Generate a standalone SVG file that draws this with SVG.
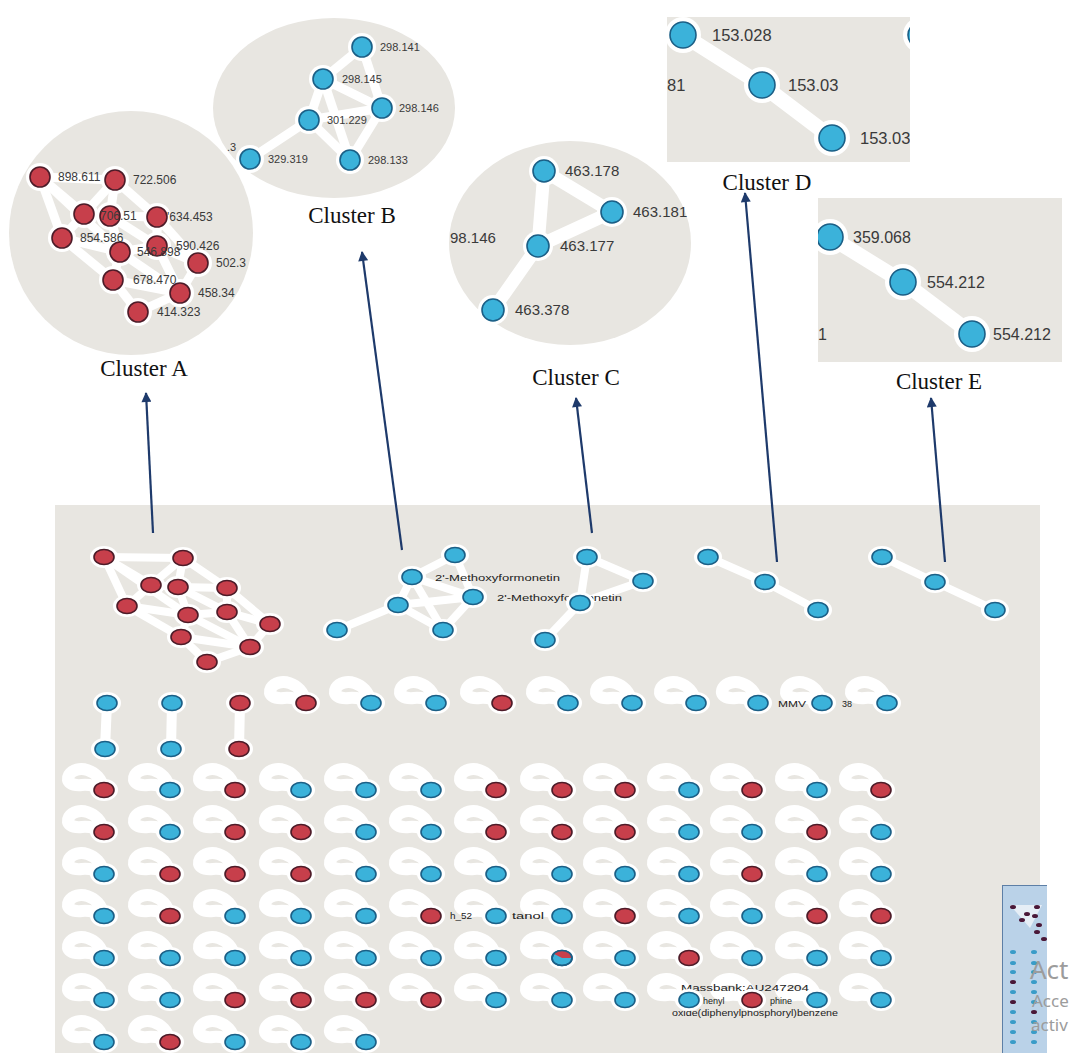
<svg xmlns="http://www.w3.org/2000/svg" xmlns:xlink="http://www.w3.org/1999/xlink" width="1071" height="1053" viewBox="0 0 1071 1053">
<style>
.bg{fill:#e8e6e1}
.e{stroke:#fff;stroke-linecap:round;fill:none}
.lp{fill:none;stroke:#fff;stroke-width:12;stroke-linejoin:round}
.b{fill:#3bb2da;stroke:#1b5f86;stroke-width:1.6}
.r{fill:#c73f4b;stroke:#4d1b28;stroke-width:1.6}
.h{fill:#fff}
.lbl{font-family:"Liberation Sans",Arial,sans-serif;fill:#3a3a3a}
.pl{font-family:"Liberation Sans",Arial,sans-serif;fill:#222;font-size:9px}
.cl{font-family:"Liberation Serif","Times New Roman",serif;font-size:23px;fill:#111}
.arr{stroke:#1e3a6b;stroke-width:2.2;fill:none;marker-end:url(#ah)}
.wm{font-family:"Noto Sans","Open Sans",sans-serif;fill:#9c9c9c}
</style>
<defs>
<marker id="ah" viewBox="0 0 10 10" refX="9" refY="5" markerWidth="11" markerHeight="10" markerUnits="userSpaceOnUse" orient="auto"><path d="M0,0 L10,5 L0,10 z" fill="#1e3a6b"/></marker>
<path id="lp" d="M0,0 C-4,-22 -28,-26 -35,-15 C-39,-8 -32,-4 -22,-5 C-13,-6 -6,-3 0,0 Z"/>
<g id="nb"><ellipse class="h" rx="14" ry="11"/><ellipse class="b" rx="10" ry="7.5"/></g>
<g id="nr"><ellipse class="h" rx="14" ry="11"/><ellipse class="r" rx="10" ry="7.5"/></g>
<g id="ar"><circle class="h" r="14"/><circle class="r" r="10"/></g>
<g id="bb"><circle class="h" r="14"/><circle class="b" r="10"/></g>
<g id="cb"><circle class="h" r="15"/><circle class="b" r="11"/></g>
<g id="db"><circle class="h" r="18"/><circle class="b" r="13"/></g>
<clipPath id="clipD"><rect x="667" y="17" width="243" height="145"/></clipPath>
<clipPath id="clipE"><rect x="818" y="198" width="244" height="164"/></clipPath>
<clipPath id="clipM"><rect x="1002" y="885" width="45" height="170"/></clipPath>
</defs>
<rect width="1071" height="1053" fill="#fff"/>

<!-- backgrounds -->
<g id="backgrounds">
<circle class="bg" cx="131" cy="233" r="122"/>
<ellipse class="bg" cx="334" cy="108" rx="121" ry="90"/>
<ellipse class="bg" cx="570" cy="243" rx="121" ry="102"/>
<rect class="bg" x="667" y="17" width="243" height="145"/>
<rect class="bg" x="818" y="198" width="244" height="164"/>
<rect class="bg" x="55" y="505" width="985" height="548"/>
</g>

<g id="connectors">
<g id="edges-clusterA-zoom" class="e" stroke-width="9">
<line x1="40" y1="177" x2="115" y2="180"/><line x1="40" y1="177" x2="62" y2="238"/><line x1="40" y1="177" x2="84" y2="214"/><line x1="40" y1="177" x2="120" y2="252"/>
<line x1="115" y1="180" x2="157" y2="217"/><line x1="115" y1="180" x2="110" y2="216"/><line x1="115" y1="180" x2="84" y2="214"/><line x1="84" y1="214" x2="110" y2="216"/>
<line x1="110" y1="216" x2="157" y2="217"/><line x1="84" y1="214" x2="62" y2="238"/><line x1="62" y1="238" x2="120" y2="252"/><line x1="62" y1="238" x2="113" y2="280"/>
<line x1="120" y1="252" x2="157" y2="246"/><line x1="157" y1="217" x2="157" y2="246"/><line x1="157" y1="217" x2="198" y2="263"/><line x1="157" y1="246" x2="198" y2="263"/>
<line x1="120" y1="252" x2="113" y2="280"/><line x1="113" y1="280" x2="180" y2="293"/><line x1="113" y1="280" x2="138" y2="312"/><line x1="138" y1="312" x2="180" y2="293"/>
<line x1="198" y1="263" x2="180" y2="293"/><line x1="157" y1="246" x2="180" y2="293"/><line x1="120" y1="252" x2="180" y2="293"/><line x1="110" y1="216" x2="120" y2="252"/><line x1="110" y1="216" x2="157" y2="246"/>
</g>
<g id="edges-clusterB-zoom" class="e" stroke-width="9">
<line x1="362" y1="47" x2="323" y2="79"/><line x1="362" y1="47" x2="382" y2="108"/><line x1="323" y1="79" x2="382" y2="108"/><line x1="323" y1="79" x2="309" y2="120"/>
<line x1="382" y1="108" x2="309" y2="120"/><line x1="309" y1="120" x2="350" y2="160"/><line x1="382" y1="108" x2="350" y2="160"/><line x1="309" y1="120" x2="250" y2="159"/><line x1="323" y1="79" x2="350" y2="160"/>
</g>
<g id="edges-clusterC-zoom" class="e" stroke-width="13">
<line x1="544" y1="171" x2="612" y2="212"/><line x1="544" y1="171" x2="538" y2="246"/><line x1="538" y1="246" x2="612" y2="212"/><line x1="538" y1="246" x2="493" y2="310"/>
</g>
<g id="edges-clusterD-zoom" class="e" stroke-width="15" clip-path="url(#clipD)">
<polyline points="683,35 762,85 832,138"/>
</g>
<g id="edges-clusterE-zoom" class="e" stroke-width="15" clip-path="url(#clipE)">
<polyline points="830,237 903,282 972,334"/>
</g>
<g id="edges-panel" class="e" stroke-width="8">
<line x1="104" y1="557" x2="183" y2="558"/><line x1="104" y1="557" x2="127" y2="606"/><line x1="104" y1="557" x2="151" y2="585"/><line x1="104" y1="557" x2="188" y2="615"/>
<line x1="183" y1="558" x2="227" y2="588"/><line x1="183" y1="558" x2="178" y2="587"/><line x1="183" y1="558" x2="151" y2="585"/><line x1="151" y1="585" x2="178" y2="587"/>
<line x1="178" y1="587" x2="227" y2="588"/><line x1="151" y1="585" x2="127" y2="606"/><line x1="127" y1="606" x2="188" y2="615"/><line x1="127" y1="606" x2="181" y2="637"/>
<line x1="188" y1="615" x2="227" y2="612"/><line x1="227" y1="588" x2="227" y2="612"/><line x1="227" y1="588" x2="270" y2="624"/><line x1="227" y1="612" x2="270" y2="624"/>
<line x1="188" y1="615" x2="181" y2="637"/><line x1="181" y1="637" x2="250" y2="647"/><line x1="181" y1="637" x2="207" y2="662"/><line x1="207" y1="662" x2="250" y2="647"/>
<line x1="270" y1="624" x2="250" y2="647"/><line x1="227" y1="612" x2="250" y2="647"/><line x1="188" y1="615" x2="250" y2="647"/><line x1="178" y1="587" x2="188" y2="615"/><line x1="178" y1="587" x2="227" y2="612"/>
<line x1="455" y1="555" x2="412" y2="577"/><line x1="455" y1="555" x2="473" y2="597"/><line x1="412" y1="577" x2="473" y2="597"/><line x1="412" y1="577" x2="398" y2="605"/>
<line x1="473" y1="597" x2="398" y2="605"/><line x1="398" y1="605" x2="443" y2="630"/><line x1="473" y1="597" x2="443" y2="630"/><line x1="398" y1="605" x2="337" y2="630"/><line x1="412" y1="577" x2="443" y2="630"/>
<line x1="587" y1="557" x2="643" y2="581"/><line x1="587" y1="557" x2="580" y2="603"/><line x1="580" y1="603" x2="643" y2="581"/><line x1="580" y1="603" x2="545" y2="640"/>
<polyline points="708,557 765,582 818,610"/>
<polyline points="882,557 935,582 995,610"/>
<line x1="107" y1="703" x2="105" y2="749" stroke-width="10"/><line x1="172" y1="703" x2="171" y2="749" stroke-width="10"/><line x1="240" y1="703" x2="239" y2="749" stroke-width="10"/>
</g>
<g id="self-loops" class="lp">
<use href="#lp" x="306" y="703"/><use href="#lp" x="371" y="703"/><use href="#lp" x="436" y="703"/><use href="#lp" x="502" y="703"/><use href="#lp" x="568" y="703"/><use href="#lp" x="632" y="703"/><use href="#lp" x="696" y="703"/><use href="#lp" x="758" y="703"/><use href="#lp" x="822" y="703"/><use href="#lp" x="887" y="703"/>
<use href="#lp" x="104" y="790"/><use href="#lp" x="170" y="790"/><use href="#lp" x="235" y="790"/><use href="#lp" x="301" y="790"/><use href="#lp" x="366" y="790"/><use href="#lp" x="431" y="790"/><use href="#lp" x="496" y="790"/><use href="#lp" x="562" y="790"/><use href="#lp" x="625" y="790"/><use href="#lp" x="689" y="790"/><use href="#lp" x="752" y="790"/><use href="#lp" x="817" y="790"/><use href="#lp" x="881" y="790"/>
<use href="#lp" x="104" y="832"/><use href="#lp" x="170" y="832"/><use href="#lp" x="235" y="832"/><use href="#lp" x="301" y="832"/><use href="#lp" x="366" y="832"/><use href="#lp" x="431" y="832"/><use href="#lp" x="496" y="832"/><use href="#lp" x="562" y="832"/><use href="#lp" x="625" y="832"/><use href="#lp" x="689" y="832"/><use href="#lp" x="752" y="832"/><use href="#lp" x="817" y="832"/><use href="#lp" x="881" y="832"/>
<use href="#lp" x="104" y="874"/><use href="#lp" x="170" y="874"/><use href="#lp" x="235" y="874"/><use href="#lp" x="301" y="874"/><use href="#lp" x="366" y="874"/><use href="#lp" x="431" y="874"/><use href="#lp" x="496" y="874"/><use href="#lp" x="562" y="874"/><use href="#lp" x="625" y="874"/><use href="#lp" x="689" y="874"/><use href="#lp" x="752" y="874"/><use href="#lp" x="817" y="874"/><use href="#lp" x="881" y="874"/>
<use href="#lp" x="104" y="916"/><use href="#lp" x="170" y="916"/><use href="#lp" x="235" y="916"/><use href="#lp" x="301" y="916"/><use href="#lp" x="366" y="916"/><use href="#lp" x="431" y="916"/><use href="#lp" x="496" y="916"/><use href="#lp" x="562" y="916"/><use href="#lp" x="625" y="916"/><use href="#lp" x="689" y="916"/><use href="#lp" x="752" y="916"/><use href="#lp" x="817" y="916"/><use href="#lp" x="881" y="916"/>
<use href="#lp" x="104" y="958"/><use href="#lp" x="170" y="958"/><use href="#lp" x="235" y="958"/><use href="#lp" x="301" y="958"/><use href="#lp" x="366" y="958"/><use href="#lp" x="431" y="958"/><use href="#lp" x="496" y="958"/><use href="#lp" x="562" y="958"/><use href="#lp" x="625" y="958"/><use href="#lp" x="689" y="958"/><use href="#lp" x="752" y="958"/><use href="#lp" x="817" y="958"/><use href="#lp" x="881" y="958"/>
<use href="#lp" x="104" y="1000"/><use href="#lp" x="170" y="1000"/><use href="#lp" x="235" y="1000"/><use href="#lp" x="301" y="1000"/><use href="#lp" x="366" y="1000"/><use href="#lp" x="431" y="1000"/><use href="#lp" x="496" y="1000"/><use href="#lp" x="562" y="1000"/><use href="#lp" x="625" y="1000"/><use href="#lp" x="689" y="1000"/><use href="#lp" x="752" y="1000"/><use href="#lp" x="817" y="1000"/><use href="#lp" x="881" y="1000"/>
<use href="#lp" x="104" y="1042"/><use href="#lp" x="170" y="1042"/><use href="#lp" x="235" y="1042"/><use href="#lp" x="301" y="1042"/><use href="#lp" x="366" y="1042"/>
</g>
<g id="arrows">
<line class="arr" x1="153" y1="533" x2="146" y2="393"/>
<line class="arr" x1="402" y1="550" x2="362" y2="252"/>
<line class="arr" x1="592" y1="533" x2="576" y2="398"/>
<line class="arr" x1="777" y1="562" x2="745" y2="193"/>
<line class="arr" x1="945" y1="562" x2="931" y2="398"/>
</g>
</g>

<g id="panel-labels">
<text class="pl" x="435" y="581" font-size="10" textLength="125" lengthAdjust="spacingAndGlyphs">2'-Methoxyformonetin</text>
<text class="pl" x="497" y="601" font-size="10" textLength="125" lengthAdjust="spacingAndGlyphs">2'-Methoxyformonetin</text>
<text class="pl" x="778" y="707" textLength="28" lengthAdjust="spacingAndGlyphs">MMV</text>
<text class="pl" x="842" y="707">38</text>
<text class="pl" x="450" y="919" textLength="22" lengthAdjust="spacingAndGlyphs">h_52</text>
<text class="pl" x="512" y="919" textLength="32" lengthAdjust="spacingAndGlyphs">tanol</text>
<text class="pl" x="681" y="991" textLength="128" lengthAdjust="spacingAndGlyphs">Massbank:AU247204</text>
<text class="pl" x="703" y="1004">henyl</text>
<text class="pl" x="770" y="1004">phine</text>
<text class="pl" x="672" y="1016" textLength="166" lengthAdjust="spacingAndGlyphs">oxide(diphenylphosphoryl)benzene</text>
</g>

<g id="nodes">
<!-- cluster A zoom -->
<g id="A-898.611"><use href="#ar" x="40" y="177"/></g>
<g id="A-722.506"><use href="#ar" x="115" y="180"/></g>
<g id="A-n3"><use href="#ar" x="84" y="214"/></g>
<g id="A-706.51"><use href="#ar" x="110" y="216"/></g>
<g id="A-634.453"><use href="#ar" x="157" y="217"/></g>
<g id="A-854.586"><use href="#ar" x="62" y="238"/></g>
<g id="A-546.898"><use href="#ar" x="120" y="252"/></g>
<g id="A-590.426"><use href="#ar" x="157" y="246"/></g>
<g id="A-502.3"><use href="#ar" x="198" y="263"/></g>
<g id="A-678.470"><use href="#ar" x="113" y="280"/></g>
<g id="A-458.34"><use href="#ar" x="180" y="293"/></g>
<g id="A-414.323"><use href="#ar" x="138" y="312"/></g>
<!-- cluster B zoom -->
<g id="B-298.141"><use href="#bb" x="362" y="47"/></g>
<g id="B-298.145"><use href="#bb" x="323" y="79"/></g>
<g id="B-298.146"><use href="#bb" x="382" y="108"/></g>
<g id="B-301.229"><use href="#bb" x="309" y="120"/></g>
<g id="B-329.319"><use href="#bb" x="250" y="159"/></g>
<g id="B-298.133"><use href="#bb" x="350" y="160"/></g>
<!-- cluster C zoom -->
<g id="C-463.178"><use href="#cb" x="544" y="171"/></g>
<g id="C-463.181"><use href="#cb" x="612" y="212"/></g>
<g id="C-463.177"><use href="#cb" x="538" y="246"/></g>
<g id="C-463.378"><use href="#cb" x="493" y="310"/></g>
<!-- cluster D zoom -->
<g id="D-153.028"><use href="#db" x="683" y="35"/></g>
<g id="D-153.03a"><use href="#db" x="762" y="85"/></g>
<g id="D-153.03b"><use href="#db" x="832" y="138"/></g>
<g id="D-edge-node" clip-path="url(#clipD)"><use href="#db" x="921" y="35"/></g>
<!-- cluster E zoom -->
<g id="E-359.068" clip-path="url(#clipE)"><use href="#db" x="830" y="237"/></g>
<g id="E-554.212a"><use href="#db" x="903" y="282"/></g>
<g id="E-554.212b"><use href="#db" x="972" y="334"/></g>

<!-- panel clusters -->
<g id="pA1"><use href="#nr" x="104" y="557"/></g><g id="pA2"><use href="#nr" x="183" y="558"/></g><g id="pA3"><use href="#nr" x="151" y="585"/></g><g id="pA4"><use href="#nr" x="178" y="587"/></g>
<g id="pA5"><use href="#nr" x="227" y="588"/></g><g id="pA6"><use href="#nr" x="127" y="606"/></g><g id="pA7"><use href="#nr" x="188" y="615"/></g><g id="pA8"><use href="#nr" x="227" y="612"/></g>
<g id="pA9"><use href="#nr" x="270" y="624"/></g><g id="pA10"><use href="#nr" x="181" y="637"/></g><g id="pA11"><use href="#nr" x="250" y="647"/></g><g id="pA12"><use href="#nr" x="207" y="662"/></g>
<g id="pB1"><use href="#nb" x="455" y="555"/></g><g id="pB2"><use href="#nb" x="412" y="577"/></g><g id="pB3"><use href="#nb" x="473" y="597"/></g><g id="pB4"><use href="#nb" x="398" y="605"/></g><g id="pB5"><use href="#nb" x="443" y="630"/></g><g id="pB6"><use href="#nb" x="337" y="630"/></g>
<g id="pC1"><use href="#nb" x="587" y="557"/></g><g id="pC2"><use href="#nb" x="643" y="581"/></g><g id="pC3"><use href="#nb" x="580" y="603"/></g><g id="pC4"><use href="#nb" x="545" y="640"/></g>
<g id="pD1"><use href="#nb" x="708" y="557"/></g><g id="pD2"><use href="#nb" x="765" y="582"/></g><g id="pD3"><use href="#nb" x="818" y="610"/></g>
<g id="pE1"><use href="#nb" x="882" y="557"/></g><g id="pE2"><use href="#nb" x="935" y="582"/></g><g id="pE3"><use href="#nb" x="995" y="610"/></g>

<!-- pairs -->
<g id="pair1a"><use href="#nb" x="107" y="703"/></g><g id="pair1b"><use href="#nb" x="105" y="749"/></g>
<g id="pair2a"><use href="#nb" x="172" y="703"/></g><g id="pair2b"><use href="#nb" x="171" y="749"/></g>
<g id="pair3a"><use href="#nr" x="240" y="703"/></g><g id="pair3b"><use href="#nr" x="239" y="749"/></g>

<!-- row 1 singletons -->
<g id="s1-1"><use href="#nr" x="306" y="703"/></g><g id="s1-2"><use href="#nb" x="371" y="703"/></g><g id="s1-3"><use href="#nb" x="436" y="703"/></g><g id="s1-4"><use href="#nr" x="502" y="703"/></g><g id="s1-5"><use href="#nb" x="568" y="703"/></g>
<g id="s1-6"><use href="#nb" x="632" y="703"/></g><g id="s1-7"><use href="#nb" x="696" y="703"/></g><g id="s1-8"><use href="#nb" x="758" y="703"/></g><g id="s1-9"><use href="#nb" x="822" y="703"/></g><g id="s1-10"><use href="#nb" x="887" y="703"/></g>

<g id="s2-1"><use href="#nr" x="104" y="790"/></g><g id="s2-2"><use href="#nb" x="170" y="790"/></g><g id="s2-3"><use href="#nr" x="235" y="790"/></g><g id="s2-4"><use href="#nb" x="301" y="790"/></g><g id="s2-5"><use href="#nb" x="366" y="790"/></g><g id="s2-6"><use href="#nb" x="431" y="790"/></g><g id="s2-7"><use href="#nr" x="496" y="790"/></g>
<g id="s2-8"><use href="#nr" x="562" y="790"/></g><g id="s2-9"><use href="#nr" x="625" y="790"/></g><g id="s2-10"><use href="#nb" x="689" y="790"/></g><g id="s2-11"><use href="#nr" x="752" y="790"/></g><g id="s2-12"><use href="#nb" x="817" y="790"/></g><g id="s2-13"><use href="#nr" x="881" y="790"/></g>
<g id="s3-1"><use href="#nr" x="104" y="832"/></g><g id="s3-2"><use href="#nb" x="170" y="832"/></g><g id="s3-3"><use href="#nr" x="235" y="832"/></g><g id="s3-4"><use href="#nr" x="301" y="832"/></g><g id="s3-5"><use href="#nb" x="366" y="832"/></g><g id="s3-6"><use href="#nb" x="431" y="832"/></g><g id="s3-7"><use href="#nr" x="496" y="832"/></g>
<g id="s3-8"><use href="#nr" x="562" y="832"/></g><g id="s3-9"><use href="#nr" x="625" y="832"/></g><g id="s3-10"><use href="#nb" x="689" y="832"/></g><g id="s3-11"><use href="#nb" x="752" y="832"/></g><g id="s3-12"><use href="#nr" x="817" y="832"/></g><g id="s3-13"><use href="#nb" x="881" y="832"/></g>
<g id="s4-1"><use href="#nb" x="104" y="874"/></g><g id="s4-2"><use href="#nr" x="170" y="874"/></g><g id="s4-3"><use href="#nr" x="235" y="874"/></g><g id="s4-4"><use href="#nr" x="301" y="874"/></g><g id="s4-5"><use href="#nb" x="366" y="874"/></g><g id="s4-6"><use href="#nb" x="431" y="874"/></g><g id="s4-7"><use href="#nb" x="496" y="874"/></g>
<g id="s4-8"><use href="#nb" x="562" y="874"/></g><g id="s4-9"><use href="#nb" x="625" y="874"/></g><g id="s4-10"><use href="#nb" x="689" y="874"/></g><g id="s4-11"><use href="#nr" x="752" y="874"/></g><g id="s4-12"><use href="#nb" x="817" y="874"/></g><g id="s4-13"><use href="#nb" x="881" y="874"/></g>
<g id="s5-1"><use href="#nb" x="104" y="916"/></g><g id="s5-2"><use href="#nr" x="170" y="916"/></g><g id="s5-3"><use href="#nb" x="235" y="916"/></g><g id="s5-4"><use href="#nb" x="301" y="916"/></g><g id="s5-5"><use href="#nb" x="366" y="916"/></g><g id="s5-6"><use href="#nr" x="431" y="916"/></g><g id="s5-7"><use href="#nb" x="496" y="916"/></g>
<g id="s5-8"><use href="#nb" x="562" y="916"/></g><g id="s5-9"><use href="#nr" x="625" y="916"/></g><g id="s5-10"><use href="#nb" x="689" y="916"/></g><g id="s5-11"><use href="#nb" x="752" y="916"/></g><g id="s5-12"><use href="#nr" x="817" y="916"/></g><g id="s5-13"><use href="#nr" x="881" y="916"/></g>
<g id="s6-1"><use href="#nb" x="104" y="958"/></g><g id="s6-2"><use href="#nb" x="170" y="958"/></g><g id="s6-3"><use href="#nb" x="235" y="958"/></g><g id="s6-4"><use href="#nb" x="301" y="958"/></g><g id="s6-5"><use href="#nb" x="366" y="958"/></g><g id="s6-6"><use href="#nb" x="431" y="958"/></g><g id="s6-7"><use href="#nb" x="496" y="958"/></g>
<g id="s6-8"><use href="#nb" x="562" y="958"/><path d="M562,958 L553.8,953.7 A10,7.5 0 0 1 572,958 Z" fill="#c73f4b"/><ellipse cx="562" cy="958" rx="10" ry="7.5" fill="none" stroke="#1b5f86" stroke-width="1.6"/></g>
<g id="s6-9"><use href="#nb" x="625" y="958"/></g><g id="s6-10"><use href="#nr" x="689" y="958"/></g><g id="s6-11"><use href="#nb" x="752" y="958"/></g><g id="s6-12"><use href="#nb" x="817" y="958"/></g><g id="s6-13"><use href="#nb" x="881" y="958"/></g>
<g id="s7-1"><use href="#nb" x="104" y="1000"/></g><g id="s7-2"><use href="#nb" x="170" y="1000"/></g><g id="s7-3"><use href="#nr" x="235" y="1000"/></g><g id="s7-4"><use href="#nr" x="301" y="1000"/></g><g id="s7-5"><use href="#nr" x="366" y="1000"/></g><g id="s7-6"><use href="#nr" x="431" y="1000"/></g><g id="s7-7"><use href="#nb" x="496" y="1000"/></g>
<g id="s7-8"><use href="#nb" x="562" y="1000"/></g><g id="s7-9"><use href="#nb" x="625" y="1000"/></g><g id="s7-10"><use href="#nb" x="689" y="1000"/></g><g id="s7-11"><use href="#nr" x="752" y="1000"/></g><g id="s7-12"><use href="#nb" x="817" y="1000"/></g><g id="s7-13"><use href="#nb" x="881" y="1000"/></g>
<g id="s8-1"><use href="#nb" x="104" y="1042"/></g><g id="s8-2"><use href="#nr" x="170" y="1042"/></g><g id="s8-3"><use href="#nb" x="235" y="1042"/></g><g id="s8-4"><use href="#nb" x="301" y="1042"/></g><g id="s8-5"><use href="#nb" x="366" y="1042"/></g>
</g>

<g id="zoom-labels" class="lbl">
<g font-size="12">
<text x="58" y="181">898.611</text>
<text x="133" y="184">722.506</text>
<text x="100" y="220">706.51</text>
<text x="167" y="221">'634.453</text>
<text x="80" y="242">854.586</text>
<text x="137" y="256">546.898</text>
<text x="176" y="250">590.426</text>
<text x="216" y="267">502.3</text>
<text x="133" y="284">678.470</text>
<text x="198" y="297">458.34</text>
<text x="157" y="316">414.323</text>
</g>
<g font-size="11">
<text x="380" y="51">298.141</text>
<text x="342" y="83">298.145</text>
<text x="399" y="112">298.146</text>
<text x="327" y="124">301.229</text>
<text x="268" y="163">329.319</text>
<text x="368" y="164">298.133</text>
<text x="227" y="151">.3</text>
</g>
<g font-size="15">
<text x="565" y="176">463.178</text>
<text x="633" y="217">463.181</text>
<text x="560" y="251">463.177</text>
<text x="515" y="315">463.378</text>
<text x="450" y="243">98.146</text>
</g>
<g font-size="16.5" clip-path="url(#clipD)">
<text x="712" y="41">153.028</text>
<text x="788" y="91">153.03</text>
<text x="860" y="144">153.03</text>
<text x="667" y="91">81</text>
</g>
<g font-size="16" clip-path="url(#clipE)">
<text x="853" y="243">359.068</text>
<text x="927" y="288">554.212</text>
<text x="993" y="340">554.212</text>
<text x="809" y="340">31</text>
</g>
</g>

<g id="cluster-titles" class="cl" text-anchor="middle">
<text x="144" y="376">Cluster A</text>
<text x="352" y="223">Cluster B</text>
<text x="576" y="385">Cluster C</text>
<text x="767" y="190">Cluster D</text>
<text x="939" y="389">Cluster E</text>
</g>

<g id="minimap">
<rect x="1002" y="885" width="50" height="170" fill="#bad2e8" stroke="#5d7fa6" stroke-width="2" clip-path="url(#clipM)"/>
<g clip-path="url(#clipM)">
<polygon points="1010,905 1042,905 1030,928" fill="#e6eef6"/>
<g fill="#4a1838">
<ellipse cx="1013" cy="907" rx="3" ry="2"/><ellipse cx="1037" cy="907" rx="3" ry="2"/><ellipse cx="1027" cy="914" rx="3" ry="2"/><ellipse cx="1035" cy="916" rx="3" ry="2"/><ellipse cx="1022" cy="920" rx="3" ry="2"/><ellipse cx="1039" cy="925" rx="3" ry="2"/><ellipse cx="1037" cy="932" rx="3" ry="2"/><ellipse cx="1044" cy="939" rx="3" ry="2"/>
<ellipse cx="1013" cy="982" rx="3" ry="2"/><ellipse cx="1013" cy="1002" rx="3" ry="2"/><ellipse cx="1034" cy="1012" rx="3" ry="2"/>
</g>
<g fill="#3a9cc8">
<ellipse cx="1013" cy="952" rx="3" ry="2"/><ellipse cx="1034" cy="952" rx="3" ry="2"/><ellipse cx="1013" cy="963" rx="3" ry="2"/><ellipse cx="1034" cy="963" rx="3" ry="2"/>
<ellipse cx="1013" cy="972" rx="3" ry="2"/><ellipse cx="1034" cy="972" rx="3" ry="2"/><ellipse cx="1034" cy="982" rx="3" ry="2"/>
<ellipse cx="1013" cy="992" rx="3" ry="2"/><ellipse cx="1034" cy="992" rx="3" ry="2"/><ellipse cx="1034" cy="1002" rx="3" ry="2"/>
<ellipse cx="1013" cy="1012" rx="3" ry="2"/><ellipse cx="1013" cy="1022" rx="3" ry="2"/><ellipse cx="1034" cy="1022" rx="3" ry="2"/>
<ellipse cx="1013" cy="1032" rx="3" ry="2"/><ellipse cx="1034" cy="1032" rx="3" ry="2"/><ellipse cx="1013" cy="1042" rx="3" ry="2"/><ellipse cx="1034" cy="1042" rx="3" ry="2"/>
</g>
</g>
</g>

<g id="watermark" class="wm">
<text x="1030" y="979" font-size="26">Act</text>
<text x="1032" y="1007" font-size="17">Acce</text>
<text x="1031" y="1031" font-size="17">activ</text>
</g>
</svg>
